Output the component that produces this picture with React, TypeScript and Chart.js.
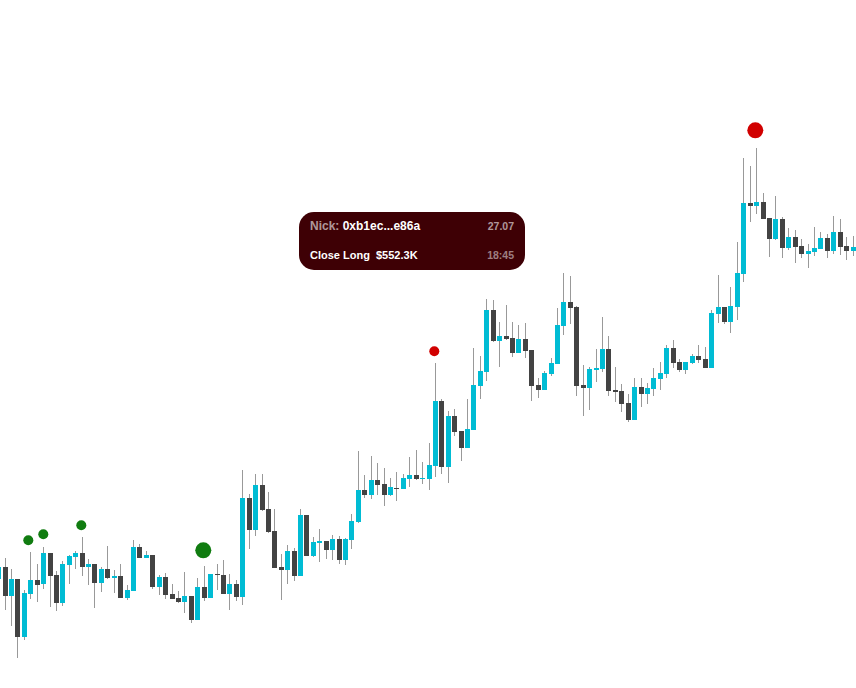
import React, { useEffect, useRef } from 'react';
import { Chart, registerables } from 'chart.js';
Chart.register(...registerables);

const opens = [109, 121, 92, 109, 51, 94, 108, 104, 135, 113, 85, 123, 131, 135, 121, 124, 105, 119, 110, 112, 90, 97, 141, 130, 133, 101, 111, 94, 90, 86, 92, 68, 101, 90, 114, 113, 94, 104, 91, 190, 158, 203, 179, 157, 121, 118, 137, 112, 173, 132, 145, 147, 138, 149, 128, 148, 166, 198, 193, 208, 204, 193, 200, 199, 209, 213, 209, 209, 222, 287, 221, 272, 257, 240, 258, 302, 316, 378, 347, 352, 350, 335, 349, 338, 303, 298, 314, 324, 362, 386, 381, 303, 300, 318, 319, 339, 298, 297, 285, 268, 301, 294, 299, 309, 314, 340, 326, 318, 325, 332, 329, 320, 374, 381, 366, 381, 414, 485, 482, 486, 470, 449, 469, 440, 451, 442, 434, 436, 439, 450, 437, 456, 442, 437];
const highs = [126, 130, 119, 109, 98, 136, 124, 141, 135, 117, 127, 133, 137, 151, 129, 124, 121, 142, 118, 124, 103, 148, 144, 137, 133, 113, 115, 104, 97, 116, 92, 110, 122, 114, 124, 128, 114, 108, 218, 194, 214, 214, 196, 179, 134, 143, 140, 179, 173, 151, 159, 147, 153, 152, 150, 174, 237, 213, 232, 225, 220, 210, 216, 214, 231, 238, 226, 245, 325, 289, 277, 279, 257, 289, 340, 332, 389, 388, 366, 383, 366, 363, 365, 338, 310, 317, 330, 380, 415, 412, 382, 323, 321, 339, 371, 352, 321, 304, 294, 310, 310, 305, 320, 326, 343, 348, 329, 326, 334, 343, 341, 378, 413, 381, 401, 446, 530, 522, 540, 495, 470, 492, 471, 460, 458, 449, 444, 461, 456, 454, 472, 469, 451, 452];
const lows = [103, 78, 62, 30, 48, 89, 86, 99, 81, 77, 82, 104, 119, 112, 103, 80, 96, 109, 95, 90, 88, 97, 130, 130, 99, 93, 89, 89, 85, 75, 65, 68, 87, 90, 98, 94, 78, 87, 83, 139, 152, 177, 155, 120, 88, 104, 107, 112, 132, 131, 126, 129, 128, 124, 123, 139, 165, 190, 189, 193, 182, 192, 187, 199, 201, 208, 204, 198, 211, 214, 205, 252, 227, 240, 258, 289, 307, 346, 321, 348, 331, 335, 330, 287, 290, 298, 312, 324, 353, 364, 292, 272, 278, 306, 316, 292, 286, 276, 266, 268, 281, 284, 292, 298, 310, 320, 316, 314, 324, 325, 320, 320, 365, 364, 355, 368, 406, 466, 474, 469, 431, 448, 430, 438, 425, 430, 420, 432, 439, 430, 434, 433, 428, 432];
const closes = [121, 92, 109, 51, 95, 108, 103, 135, 112, 85, 124, 132, 135, 121, 124, 105, 119, 110, 112, 90, 98, 141, 130, 133, 101, 111, 93, 89, 86, 92, 68, 101, 90, 114, 113, 94, 104, 91, 190, 158, 203, 178, 156, 120, 118, 137, 112, 173, 132, 146, 147, 138, 149, 128, 149, 167, 198, 193, 208, 203, 193, 201, 199, 210, 213, 209, 210, 223, 287, 221, 272, 256, 240, 259, 303, 317, 378, 347, 352, 349, 335, 349, 337, 302, 298, 315, 325, 363, 386, 380, 302, 300, 319, 320, 339, 297, 296, 284, 268, 301, 294, 300, 310, 315, 340, 325, 318, 326, 332, 328, 320, 375, 381, 366, 382, 415, 485, 482, 486, 469, 449, 469, 440, 451, 441, 434, 437, 440, 450, 437, 456, 441, 437, 441];

// trade markers sit between candles: [candle position, price]
const smallBuys = [[4.62, 147.7], [6.955, 153.7], [12.87, 162.7]];
const largeBuys = [[31.86, 137.7]];
const smallSells = [[67.82, 336.7]];
const largeSells = [[117.79, 557.7]];

const UP = '#00bcd4';
const DOWN = '#434343';
const WICK = '#999999';
const BUY = '#107c10';
const SELL = '#d10000';

const candleIndex = opens.map((_, i) => i);

const points = (list: number[][]) => list.map(([x, y]) => ({ x, y }));

// the candles land on whole pixels in the original
const snapCandles = {
    id: 'snapCandles',
    afterDatasetsUpdate(chart: Chart) {
        chart.getSortedVisibleDatasetMetas().forEach((meta) => {
            if (meta.type !== 'bar') return;
            meta.data.forEach((el: any) => {
                el.x = Math.floor(el.x) + 0.5;
            });
        });
    },
};

const App: React.FC = () => {
    const chartRef = useRef<HTMLCanvasElement>(null);

    useEffect(() => {
        if (!chartRef.current) return;
        const chart = new Chart(chartRef.current, {
            type: 'bar',
            data: {
                datasets: [
                    {
                        type: 'scatter',
                        data: points(smallBuys),
                        backgroundColor: BUY,
                        pointRadius: 5,
                        borderWidth: 0,
                        order: 0,
                    },
                    {
                        type: 'scatter',
                        data: points(largeBuys),
                        backgroundColor: BUY,
                        pointRadius: 8,
                        borderWidth: 0,
                        order: 0,
                    },
                    {
                        type: 'scatter',
                        data: points(smallSells),
                        backgroundColor: SELL,
                        pointRadius: 5,
                        borderWidth: 0,
                        order: 0,
                    },
                    {
                        type: 'scatter',
                        data: points(largeSells),
                        backgroundColor: SELL,
                        pointRadius: 8,
                        borderWidth: 0,
                        order: 0,
                    },
                    {
                        data: candleIndex.map((i) => ({ x: i, y: [opens[i], closes[i]] })),
                        backgroundColor: candleIndex.map((i) => (closes[i] >= opens[i] ? UP : DOWN)),
                        barThickness: 5,
                        grouped: false,
                        borderWidth: 0,
                        inflateAmount: 0,
                        order: 1,
                    },
                    {
                        data: candleIndex.map((i) => ({ x: i, y: [lows[i], highs[i]] })),
                        backgroundColor: WICK,
                        barThickness: 1,
                        grouped: false,
                        borderWidth: 0,
                        inflateAmount: 0,
                        order: 2,
                    },
                ] as any,
            },
            options: {
                responsive: false,
                animation: false,
                events: [],
                layout: { padding: 0, autoPadding: false },
                plugins: { legend: { display: false }, tooltip: { enabled: false } },
                scales: {
                    x: { type: 'linear', display: false, offset: false, min: 0.2148, max: 133.465 },
                    y: { type: 'linear', display: false, min: 0, max: 688 },
                },
            },
            plugins: [snapCandles],
        });

        return () => {
            chart.destroy();
        };
    }, []);

    const line: React.CSSProperties = {
        position: 'absolute',
        left: 11,
        right: 11,
        display: 'flex',
        justifyContent: 'space-between',
        alignItems: 'center',
        height: 14,
    };

    return (
        <div style={{ position: 'absolute', left: 0, top: 0, width: 856, height: 688, background: '#fff', overflow: 'hidden' }}>
            <canvas ref={chartRef} width={856} height={688} style={{ display: 'block' }}></canvas>
            <div
                style={{
                    position: 'absolute',
                    left: 299,
                    top: 212,
                    width: 226,
                    height: 58,
                    borderRadius: 15,
                    background: '#3e0005',
                    color: '#fff',
                    fontFamily: '"Liberation Sans", Arial, sans-serif',
                    fontWeight: 700,
                    fontSize: 11,
                }}
            >
                <div style={{ ...line, top: 7 }}>
                    <span style={{ fontSize: 12 }}>
                        <span style={{ color: 'rgba(255,255,255,0.6)' }}>Nick: </span>0xb1ec...e86a
                    </span>
                    <span style={{ color: 'rgba(255,255,255,0.6)', fontSize: 10.5 }}>27.07</span>
                </div>
                <div style={{ ...line, top: 36 }}>
                    <span style={{ whiteSpace: 'pre' }}>Close Long  $552.3K</span>
                    <span style={{ color: 'rgba(255,255,255,0.5)', fontSize: 10.5 }}>18:45</span>
                </div>
            </div>
        </div>
    );
};

export default App;
